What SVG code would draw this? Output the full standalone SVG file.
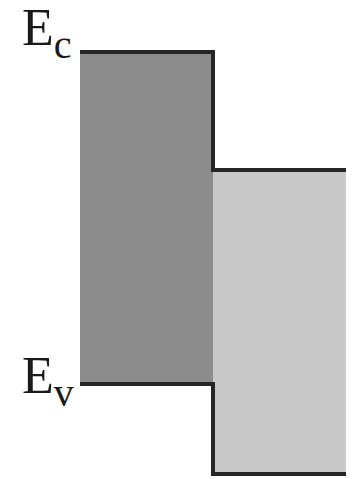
<svg xmlns="http://www.w3.org/2000/svg" width="354" height="479" viewBox="0 0 354 479">
<style>
.ln{fill:none;stroke:#262626;stroke-width:4;stroke-linejoin:miter}
.t{font-family:"Liberation Serif",serif;fill:#1a1a1a}
</style>
<rect width="354" height="479" fill="#fff"/>
<g id="region-left">
<rect x="80" y="52" width="133" height="332" fill="#8c8c8c"/>
</g>
<g id="region-right">
<rect x="213" y="170" width="133" height="304" fill="#c8c8c8"/>
</g>
<g id="lines">
<polyline class="ln" points="80,52 213,52 213,170 346,170"/>
<polyline class="ln" points="80,384 213,384 213,474 346,474"/>
</g>
<g id="label-ec">
<text class="t" x="22" y="45" font-size="52">E<tspan font-size="40" dy="13">c</tspan></text>
</g>
<g id="label-ev">
<text class="t" x="22" y="393" font-size="52">E<tspan font-size="40" dy="13">v</tspan></text>
</g>
</svg>
